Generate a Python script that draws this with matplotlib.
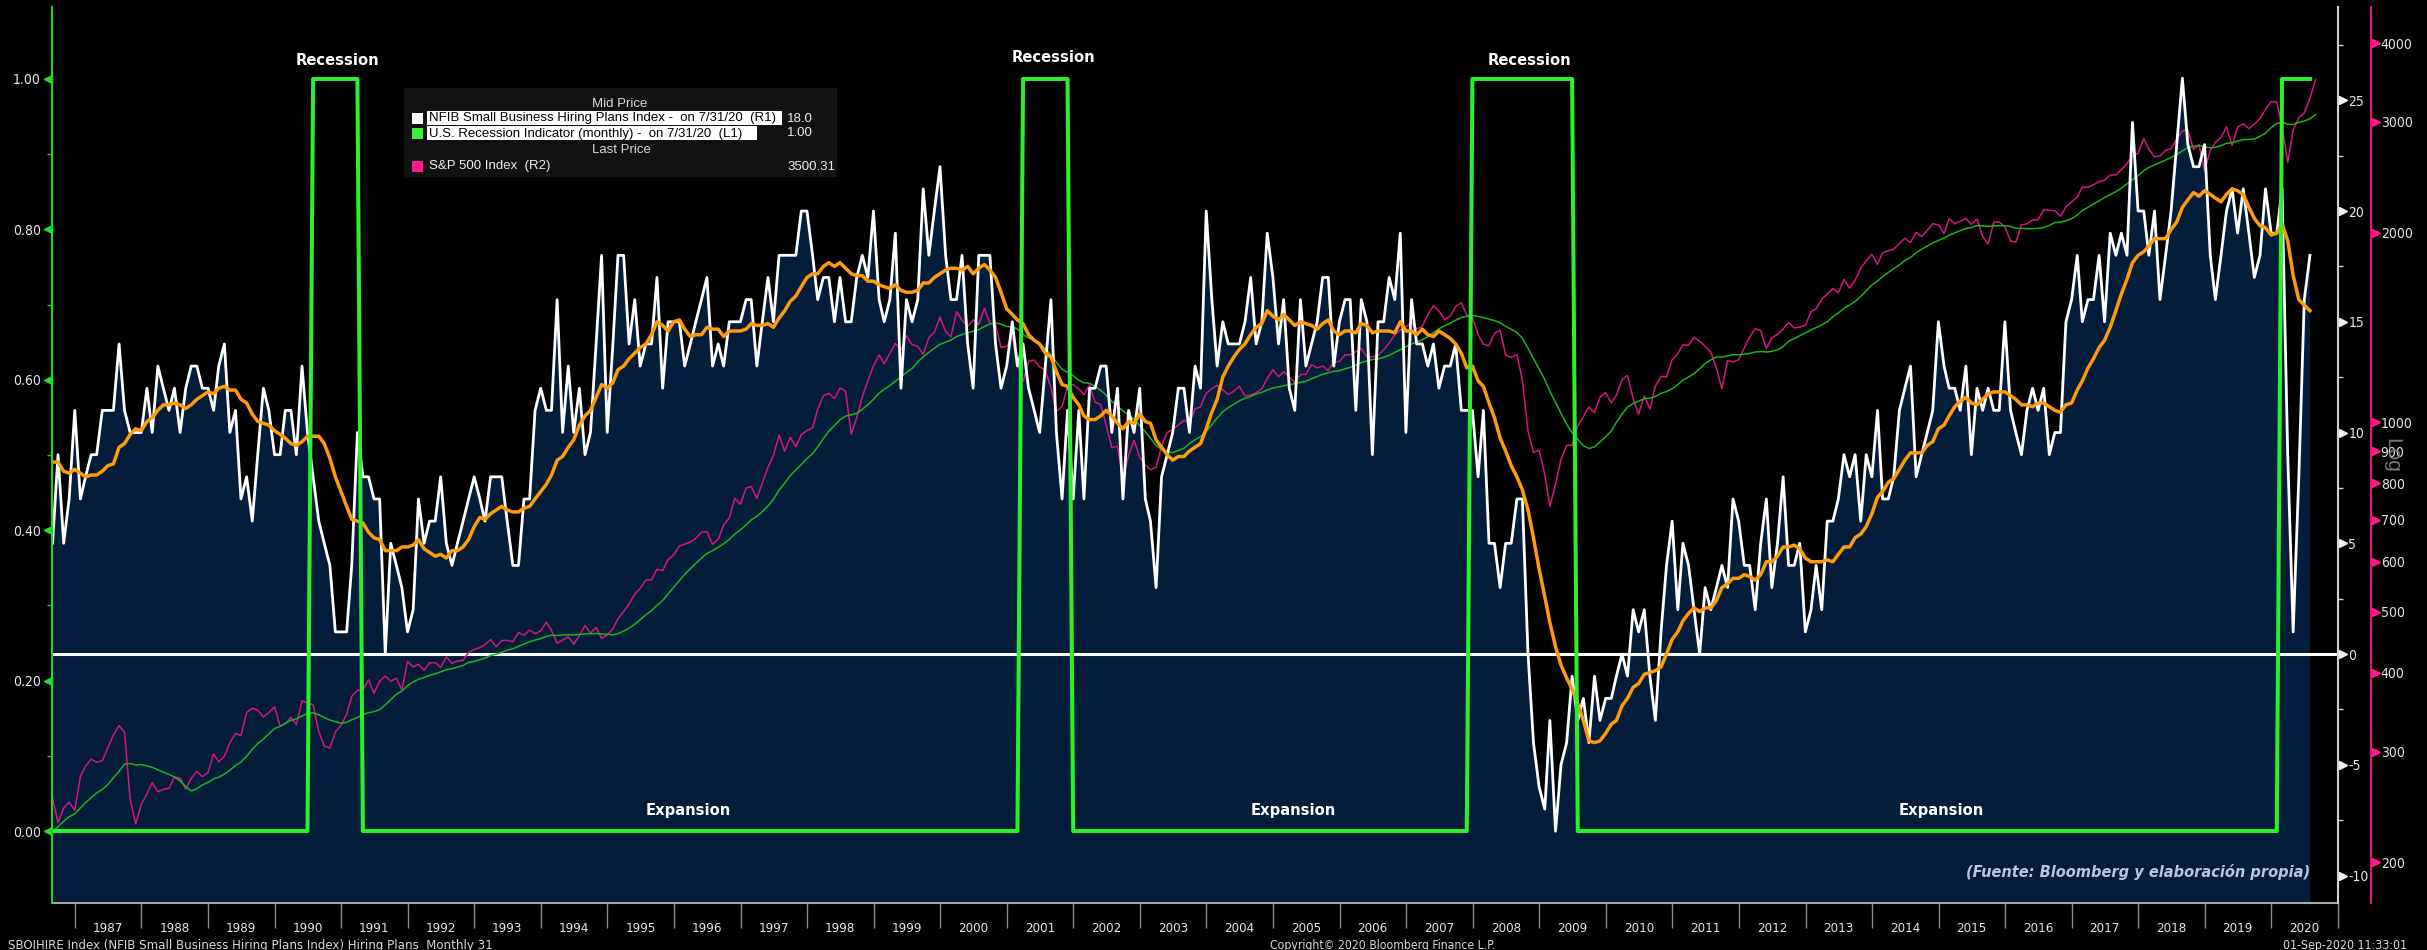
import numpy as np
import pandas as pd
import matplotlib
matplotlib.use("Agg")
import matplotlib.pyplot as plt
import matplotlib.dates as mdates
import matplotlib.ticker as mticker
from matplotlib import font_manager as fm
from matplotlib.patches import Rectangle
from matplotlib.transforms import blended_transform_factory, ScaledTranslation

# ---------------------------------------------------------------- DATA
start_month = "1986-08"

# NFIB Small Business Hiring Plans Index (R1), monthly, Aug 1986 - Jul 2020
nfib_hiring_plans = [
    5, 9, 5, 7, 11,                                   # 1986 Aug-Dec
    7, 8, 9, 9, 11, 11, 11, 14, 11, 10, 10, 10,       # 1987
    12, 10, 13, 12, 11, 12, 10, 12, 13, 13, 12, 12,   # 1988
    11, 13, 14, 10, 11, 7, 8, 6, 9, 12, 11, 9,        # 1989
    9, 11, 11, 9, 13, 10, 8, 6, 5, 4, 1, 1,           # 1990
    1, 4, 10, 8, 8, 7, 7, 0, 5, 4, 3, 1,              # 1991
    2, 7, 5, 6, 6, 8, 5, 4, 5, 6, 7, 8,               # 1992
    7, 6, 8, 8, 8, 6, 4, 4, 7, 7, 11, 12,             # 1993
    11, 11, 16, 10, 13, 10, 12, 9, 10, 14, 18, 10,    # 1994
    14, 18, 18, 14, 16, 13, 14, 14, 17, 12, 15, 15,   # 1995
    15, 13, 14, 15, 16, 17, 13, 14, 13, 15, 15, 15,   # 1996
    16, 16, 13, 15, 17, 15, 18, 18, 18, 18, 20, 20,   # 1997
    18, 16, 17, 17, 15, 17, 15, 15, 17, 18, 17, 20,   # 1998
    16, 15, 16, 19, 12, 16, 15, 16, 21, 18, 20, 22,   # 1999
    18, 16, 16, 18, 14, 12, 18, 18, 18, 14, 12, 13,   # 2000
    15, 13, 14, 12, 11, 10, 13, 16, 10, 7, 11, 7,     # 2001
    11, 7, 12, 12, 13, 13, 10, 12, 7, 11, 10, 12,     # 2002
    7, 6, 3, 8, 9, 10, 12, 12, 10, 13, 12, 20,        # 2003
    16, 13, 15, 14, 14, 14, 15, 17, 14, 15, 19, 17,   # 2004
    14, 16, 12, 11, 16, 13, 14, 15, 17, 17, 13, 15,   # 2005
    16, 16, 11, 16, 15, 9, 15, 15, 17, 16, 19, 10,    # 2006
    16, 14, 14, 13, 14, 12, 13, 13, 14, 11, 11, 11,   # 2007
    8, 11, 5, 5, 3, 5, 5, 7, 7, 0, -4, -6,            # 2008
    -7, -3, -8, -5, -4, -1, -3, -2, -4, -1, -3, -2,   # 2009
    -2, -1, 0, -1, 2, 1, 2, -1, -3, 1, 4, 6,          # 2010
    2, 5, 4, 2, 0, 3, 2, 3, 4, 3, 7, 6,               # 2011
    4, 4, 2, 5, 7, 3, 5, 8, 4, 4, 5, 1,               # 2012
    2, 4, 2, 6, 6, 7, 9, 8, 9, 6, 9, 8,               # 2013
    11, 7, 7, 8, 11, 12, 13, 8, 9, 10, 11, 15,        # 2014
    13, 12, 12, 11, 13, 9, 12, 11, 12, 11, 11, 15,    # 2015
    11, 10, 9, 11, 12, 11, 12, 9, 10, 10, 15, 16,     # 2016
    18, 15, 16, 16, 18, 15, 19, 18, 19, 18, 24, 20,   # 2017
    20, 18, 20, 16, 18, 20, 23, 26, 23, 22, 22, 23,   # 2018
    18, 16, 18, 20, 21, 19, 21, 19, 17, 18, 21, 19,   # 2019
    19, 21, 9, 1, 8, 16, 18,                          # 2020 Jan-Jul
]
# the 11 months before the window (Sep 1985 - Jul 1986), only feed the 12m average
nfib_prior_11m = [9, 10, 8, 9, 9, 10, 8, 9, 9, 8, 10]

# S&P 500 Index (R2), monthly close, Aug 1986 - Aug 2020
sp500 = [
    252.93, 231.32, 243.98, 249.22, 242.17,
    274.08, 284.20, 291.70, 288.36, 290.10, 304.00, 318.66, 329.80, 321.83, 251.79, 230.30, 247.08,
    257.07, 267.82, 258.89, 261.33, 262.16, 273.50, 272.02, 261.52, 271.91, 278.97, 273.70, 277.72,
    297.47, 288.86, 294.87, 309.64, 320.52, 317.98, 346.08, 351.45, 349.15, 340.36, 345.99, 353.40,
    329.08, 331.89, 339.94, 330.80, 361.23, 358.02, 356.15, 322.56, 306.05, 304.00, 322.22, 330.22,
    343.93, 367.07, 375.22, 375.35, 389.83, 371.16, 387.81, 395.43, 387.86, 392.46, 375.22, 417.09,
    408.79, 412.70, 403.69, 414.95, 415.35, 408.14, 424.21, 414.03, 417.80, 418.68, 431.35, 435.71,
    438.78, 443.38, 451.67, 440.19, 450.19, 450.53, 448.13, 463.56, 458.93, 467.83, 461.79, 466.45,
    481.61, 467.14, 445.77, 450.91, 456.50, 444.27, 458.26, 475.49, 462.69, 472.35, 453.69, 459.27,
    470.42, 487.39, 500.71, 514.71, 533.40, 544.75, 562.06, 561.88, 584.41, 581.50, 605.37, 615.93,
    636.02, 640.43, 645.50, 654.17, 669.12, 670.63, 639.95, 651.99, 687.33, 705.27, 757.02, 740.74,
    786.16, 790.82, 757.12, 801.34, 848.28, 885.14, 954.29, 899.47, 947.28, 914.62, 955.40, 970.43,
    980.28, 1049.34, 1101.75, 1111.75, 1090.82, 1133.84, 1120.67, 957.28, 1017.01, 1098.67, 1163.63, 1229.23,
    1279.64, 1238.33, 1286.37, 1335.18, 1301.84, 1372.71, 1328.72, 1320.41, 1282.71, 1362.93, 1388.91, 1469.25,
    1394.46, 1366.42, 1498.58, 1452.43, 1420.60, 1454.60, 1430.83, 1517.68, 1436.51, 1429.40, 1314.95, 1320.28,
    1366.01, 1239.94, 1160.33, 1249.46, 1255.82, 1224.42, 1211.23, 1133.58, 1040.94, 1059.78, 1139.45, 1148.08,
    1130.20, 1106.73, 1147.39, 1076.92, 1067.14, 989.82, 911.62, 916.07, 815.28, 885.76, 936.31, 879.82,
    855.70, 841.15, 848.18, 916.92, 963.59, 974.50, 990.31, 1008.01, 995.97, 1050.71, 1058.20, 1111.92,
    1131.13, 1144.94, 1126.21, 1107.30, 1120.68, 1140.84, 1101.72, 1104.24, 1114.58, 1130.20, 1173.82, 1211.92,
    1181.27, 1203.60, 1180.59, 1156.85, 1191.50, 1191.33, 1234.18, 1220.33, 1228.81, 1207.01, 1249.48, 1248.29,
    1280.08, 1280.66, 1294.83, 1310.61, 1270.09, 1270.20, 1276.66, 1303.82, 1335.85, 1377.94, 1400.63, 1418.30,
    1438.24, 1406.82, 1420.86, 1482.37, 1530.62, 1503.35, 1455.27, 1473.99, 1526.75, 1549.38, 1481.14, 1468.36,
    1378.55, 1330.63, 1322.70, 1385.59, 1400.38, 1280.00, 1267.38, 1282.83, 1166.36, 968.75, 896.24, 903.25,
    825.88, 735.09, 797.87, 872.81, 919.14, 919.32, 987.48, 1020.62, 1057.08, 1036.19, 1095.63, 1115.10,
    1073.87, 1104.49, 1169.43, 1186.69, 1089.41, 1030.71, 1101.60, 1049.33, 1141.20, 1183.26, 1180.55, 1257.64,
    1286.12, 1327.22, 1325.83, 1363.61, 1345.20, 1320.64, 1292.28, 1218.89, 1131.42, 1253.30, 1246.96, 1257.60,
    1312.41, 1365.68, 1408.47, 1397.91, 1310.33, 1362.16, 1379.32, 1406.58, 1440.67, 1412.16, 1416.18, 1426.19,
    1498.11, 1514.68, 1569.19, 1597.57, 1630.74, 1606.28, 1685.73, 1632.97, 1681.55, 1756.54, 1805.81, 1848.36,
    1782.59, 1859.45, 1872.34, 1883.95, 1923.57, 1960.23, 1930.67, 2003.37, 1972.29, 2018.05, 2067.56, 2058.90,
    1994.99, 2104.50, 2067.89, 2085.51, 2107.39, 2063.11, 2103.84, 1972.18, 1920.03, 2079.36, 2080.41, 2043.94,
    1940.24, 1932.23, 2059.74, 2065.30, 2096.95, 2098.86, 2173.60, 2170.95, 2168.27, 2126.15, 2198.81, 2238.83,
    2278.87, 2363.64, 2362.72, 2384.20, 2411.80, 2423.41, 2470.30, 2471.65, 2519.36, 2575.26, 2647.58, 2673.61,
    2823.81, 2713.83, 2640.87, 2648.05, 2705.27, 2718.37, 2816.29, 2901.52, 2913.98, 2711.74, 2760.17, 2506.85,
    2704.10, 2784.49, 2834.40, 2945.83, 2752.06, 2941.76, 2980.38, 2926.46, 2976.74, 3037.56, 3140.98, 3230.78,
    3225.52, 2954.22, 2584.59, 2912.43, 3044.31, 3100.29, 3271.12, 3500.31,
]
sp500_prior_11m = [182.08, 189.82, 202.17, 211.28, 211.78, 226.92, 238.90, 235.52, 247.35, 250.84, 236.12]

# U.S. Recession Indicator (L1): months flagged 1
recession_periods = [("1990-07", "1991-03"), ("2001-03", "2001-11"),
                     ("2007-12", "2009-06"), ("2020-02", "2020-07")]

l1_ticks = [0.0, 0.2, 0.4, 0.6, 0.8, 1.0]
r1_ticks = [-10, -5, 0, 5, 10, 15, 20, 25]
r2_ticks = [200, 300, 400, 500, 600, 700, 800, 900, 1000, 2000, 3000, 4000]

legend_rows = [
    ("NFIB Small Business Hiring Plans Index -  on 7/31/20  (R1)", "18.0"),
    ("U.S. Recession Indicator (monthly) -  on 7/31/20  (L1)", "1.00"),
    ("S&P 500 Index  (R2)", "3500.31"),
]
footer_left = "SBOIHIRE Index (NFIB Small Business Hiring Plans Index) Hiring Plans  Monthly 31"
footer_mid = "Copyright\u00a9 2020 Bloomberg Finance L.P."
footer_right = "01-Sep-2020 11:33:01"
source_note = "(Fuente: Bloomberg y elaboraci\u00f3n propia)"

# ---------------------------------------------------------------- DERIVED SERIES
months = pd.period_range(start_month, periods=len(nfib_hiring_plans), freq="M")
nfib_dates = months.to_timestamp(how="end").normalize().to_numpy()
sp_months = pd.period_range(start_month, periods=len(sp500), freq="M")
sp_dates = sp_months.to_timestamp(how="end").normalize().to_numpy()

nfib_ma = pd.Series(nfib_prior_11m + nfib_hiring_plans, dtype=float).rolling(12).mean().to_numpy()[11:]
sp_ma = pd.Series(sp500_prior_11m + sp500, dtype=float).rolling(12).mean().to_numpy()[11:]

recession = np.zeros(len(months))
for s, e in recession_periods:
    recession[(months >= pd.Period(s, "M")) & (months <= pd.Period(e, "M"))] = 1.0

# ---------------------------------------------------------------- FONTS
ttf = fm.fontManager.ttflist
avail = {f.name for f in ttf}
NARROW = "Liberation Sans"
STRETCH = "normal"
if "Liberation Sans Narrow" in avail:
    NARROW = "Liberation Sans Narrow"
else:
    for fam in ("DejaVu Sans", "Noto Sans", "Open Sans", "Roboto"):
        if any(f.name == fam and f.stretch in ("condensed", "semi-condensed", "extra-condensed")
               for f in ttf):
            NARROW, STRETCH = fam, "condensed"
            break
plt.rcParams["font.family"] = [NARROW, "DejaVu Sans"]
plt.rcParams["font.stretch"] = STRETCH
plt.rcParams["axes.unicode_minus"] = False

# ---------------------------------------------------------------- FIGURE
W, H = 2427, 950
fig = plt.figure(figsize=(W / 100, H / 100), dpi=100, facecolor="black")
PL, PR, PT, PB = 52, 2338, 7, 903
rect = [PL / W, 1 - PB / H, (PR - PL) / W, (PB - PT) / H]

ax_fill = fig.add_axes(rect, facecolor="black", zorder=1)
ax_sp = fig.add_axes(rect, sharex=ax_fill, zorder=2)
ax_nf = fig.add_axes(rect, sharex=ax_fill, zorder=3)
ax_rec = fig.add_axes(rect, sharex=ax_fill, zorder=4)
for ax in (ax_sp, ax_nf, ax_rec):
    ax.patch.set_visible(False)
for ax in (ax_fill, ax_sp, ax_nf, ax_rec):
    for s in ax.spines.values():
        s.set_visible(False)
    ax.tick_params(which="both", left=False, right=False, top=False, bottom=False,
                   labelleft=False, labelright=False, labelbottom=False, labeltop=False)

NAVY = "#041d3a"
PINK = "#d8167f"
GREEN_REC = "#2cf02c"
GREEN_MA = "#1cb41c"
ORANGE = "#ff9a0a"

# navy area under the NFIB line + zero line
ax_fill.fill_between(nfib_dates, nfib_hiring_plans, -50, color=NAVY, lw=0)
ax_fill.axhline(0, color="white", lw=2.2)

# S&P 500 and its moving average (log R2)
ax_sp.set_yscale("log")
ax_sp.plot(sp_dates, sp500, color=PINK, lw=1.1)
ax_sp.plot(sp_dates, sp_ma, color=GREEN_MA, lw=1.1)

# NFIB and its moving average (R1)
ax_nf.plot(nfib_dates, nfib_hiring_plans, color="white", lw=2.0)
ax_nf.plot(nfib_dates, nfib_ma, color=ORANGE, lw=2.5)

# Recession indicator (L1)
ax_rec.plot(nfib_dates, recession, color=GREEN_REC, lw=2.9)

# ---------------------------------------------------------------- AXES
xmin = np.datetime64("1986-08-28")
xmax = np.datetime64("2021-01-01")

ax_fill.spines["bottom"].set_visible(True)
ax_fill.spines["bottom"].set_color("#a8a8a8")
ax_fill.spines["bottom"].set_linewidth(1.5)
ax_fill.xaxis.set_major_locator(mdates.YearLocator(1))
ax_fill.xaxis.set_minor_locator(mdates.MonthLocator(bymonth=7, bymonthday=1))
ax_fill.xaxis.set_major_formatter(mticker.NullFormatter())
ax_fill.xaxis.set_minor_formatter(mdates.DateFormatter("%Y"))
ax_fill.tick_params(axis="x", which="major", bottom=True, length=18, width=1, color="#8c8c8c")
ax_fill.tick_params(axis="x", which="minor", bottom=True, length=0, labelbottom=True,
                    pad=14, labelsize=9.5, labelcolor="#e6e6e6")

# L1 (left)
ax_rec.spines["left"].set_visible(True)
ax_rec.spines["left"].set_color("#22d622")
ax_rec.spines["left"].set_linewidth(1.5)
ax_rec.yaxis.set_major_locator(mticker.FixedLocator(l1_ticks))
ax_rec.yaxis.set_minor_locator(mticker.FixedLocator([0.1, 0.3, 0.5, 0.7, 0.9]))
ax_rec.yaxis.set_major_formatter(mticker.FormatStrFormatter("%.2f"))
ax_rec.tick_params(axis="y", which="major", left=True, length=0, labelleft=True, pad=8,
                   labelsize=10, labelcolor="#e6e6e6")
ax_rec.tick_params(axis="y", which="minor", left=True, length=3.5, width=1, color="#22d622")

# R1 (right)
ax_nf.spines["right"].set_visible(True)
ax_nf.spines["right"].set_color("#d0d0d0")
ax_nf.spines["right"].set_linewidth(1.5)
ax_nf.yaxis.tick_right()
ax_nf.yaxis.set_major_locator(mticker.FixedLocator(r1_ticks))
ax_nf.yaxis.set_minor_locator(mticker.FixedLocator([-7.5, -2.5, 2.5, 7.5, 12.5, 17.5, 22.5, 27.5]))
ax_nf.yaxis.set_major_formatter(mticker.FormatStrFormatter("%d"))
ax_nf.tick_params(axis="y", which="major", right=True, length=0, labelright=True, pad=7.5,
                  labelsize=10, labelcolor="#e6e6e6")
ax_nf.tick_params(axis="y", which="minor", right=True, length=3.5, width=1, color="#d0d0d0")

# R2 (far right, log)
R2_POS = (2371 - PL) / (PR - PL)
ax_sp.spines["right"].set_visible(True)
ax_sp.spines["right"].set_position(("axes", R2_POS))
ax_sp.spines["right"].set_color("#e0167f")
ax_sp.spines["right"].set_linewidth(1.5)
ax_sp.yaxis.tick_right()
ax_sp.yaxis.set_major_locator(mticker.FixedLocator(r2_ticks))
ax_sp.yaxis.set_minor_locator(mticker.NullLocator())
ax_sp.yaxis.set_major_formatter(mticker.FuncFormatter(lambda v, p: f"{v:.0f}"))
ax_sp.tick_params(axis="y", which="major", right=True, length=0, labelright=True, pad=7,
                  labelsize=10, labelcolor="#e6e6e6")


def tick_triangles(ax, xa, vals, dx_px, marker, color):
    tr = blended_transform_factory(ax.transAxes, ax.transData) + \
        ScaledTranslation(dx_px / 100.0, 0, fig.dpi_scale_trans)
    ax.plot([xa] * len(vals), vals, ls="none", marker=marker, ms=5.5, color=color,
            mec=color, transform=tr, clip_on=False)


tick_triangles(ax_rec, 0.0, l1_ticks, -4.5, "<", "#22e022")
tick_triangles(ax_nf, 1.0, r1_ticks, 4.5, ">", "#f0f0f0")
tick_triangles(ax_sp, R2_POS, r2_ticks, 4.5, ">", "#ff1a8c")

ax_fill.set_xlim(xmin, xmax)
ax_fill.set_ylim(-11.24, 29.21)
ax_nf.set_ylim(-11.24, 29.21)
ax_sp.set_ylim(172.4, 4567)
ax_rec.set_ylim(-0.0957, 1.0957)

# ---------------------------------------------------------------- ANNOTATIONS
renderer = fig.canvas.get_renderer()


def fit(txt, width_px):
    bb = txt.get_window_extent(renderer)
    txt.set_fontsize(txt.get_fontsize() * width_px / bb.width)


for xd, yv in [("1990-12-10", 1.024), ("2001-09-12", 1.029), ("2008-11-10", 1.025)]:
    t = ax_rec.text(np.datetime64(xd), yv, "Recession", color="white", fontweight="bold",
                    family="DejaVu Sans", fontstretch="normal", ha="center", va="center",
                    fontsize=11, clip_on=False)
    fit(t, 83)
for xd in ["1996-03-17", "2005-04-20", "2015-01-15"]:
    t = ax_rec.text(np.datetime64(xd), 0.027, "Expansion", color="white", fontweight="bold",
                    family="DejaVu Sans", fontstretch="normal", ha="center", va="center", fontsize=11)
    fit(t, 85)

t = ax_rec.text((2310 - PL) / (PR - PL), (PB - 872) / (PB - PT), source_note, transform=ax_rec.transAxes,
                ha="right", va="center", color="#b6c6de", fontweight="bold", style="italic",
                family=[NARROW, "DejaVu Sans"], fontsize=14)
fit(t, 344)

fig.text(2392 / W, 1 - 455 / H, "Log", rotation=270, color="#787878", ha="center", va="center",
         fontsize=15, family="Liberation Sans", fontstretch="normal", zorder=20)


# ---------------------------------------------------------------- LEGEND (pixel layout)
def fx(x):
    return x / W


def fy(y):
    return 1 - y / H


def box(x0, y0, x1, y1, color):
    fig.add_artist(Rectangle((fx(x0), fy(y1)), (x1 - x0) / W, (y1 - y0) / H,
                             transform=fig.transFigure, facecolor=color, edgecolor="none", zorder=30))


box(404, 88, 837, 177, "#121212")
box(427, 111, 782, 125, "white")
box(427, 126, 757, 140, "white")
box(412, 113, 423, 124, "white")
box(412, 128, 423, 139, "#3df03d")
box(412, 161, 423, 172, "#ff1a8c")

LEG_FONT = "Liberation Sans"
t1 = fig.text(fx(429), fy(118.5), legend_rows[0][0], color="black", ha="left", va="center",
              family=LEG_FONT, fontstretch="normal", fontsize=9, zorder=31)
fit(t1, 350)
fs = t1.get_fontsize()
kw = dict(family=LEG_FONT, fontstretch="normal", fontsize=fs, zorder=31, va="center")
fig.text(fx(429), fy(133.5), legend_rows[1][0], color="black", ha="left", **kw)
fig.text(fx(429), fy(166.5), legend_rows[2][0], color="#f0f0f0", ha="left", **kw)
fig.text(fx(620), fy(104), "Mid Price", color="#d8d8d8", ha="center", **kw)
fig.text(fx(621), fy(150), "Last Price", color="#d8d8d8", ha="center", **kw)
for (lab, val), yy in zip(legend_rows, [118.5, 133.5, 166.5]):
    fig.text(fx(787), fy(yy), val, color="#f0f0f0", ha="left", **kw)

# ---------------------------------------------------------------- FOOTER
f1 = fig.text(fx(8), fy(945), footer_left, color="#d8d8d8", ha="left", va="center", fontsize=9)
fit(f1, 481)
f2 = fig.text(fx(1270), fy(945), footer_mid, color="#d8d8d8", ha="left", va="center", fontsize=9)
fit(f2, 225)
f3 = fig.text(fx(2407), fy(945), footer_right, color="#d8d8d8", ha="right", va="center", fontsize=9)
fit(f3, 125)

fig.savefig("out.png", dpi=100, facecolor="black")
